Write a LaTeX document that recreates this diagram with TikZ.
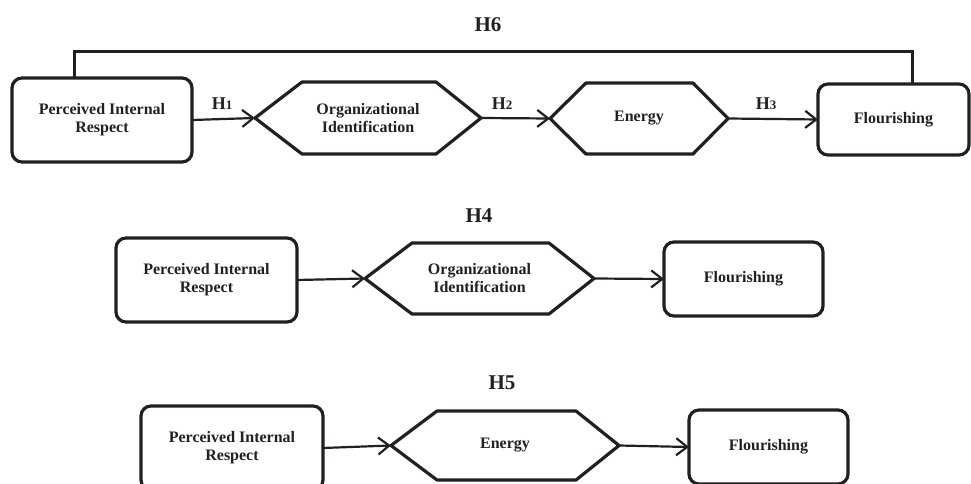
\documentclass[tikz,border=0pt]{standalone}
\usepackage{fontspec}
\setmainfont{Liberation Serif}
\usetikzlibrary{arrows.meta}
\definecolor{ink}{HTML}{231F20}
\tikzset{
  boxline/.style={draw=ink, line width=3.2pt, line join=round},
  rbox/.style={boxline, rounded corners=10pt, inner sep=0pt, outer sep=0pt, align=center, text=ink,
     font=\fontsize{16}{18}\selectfont\bfseries},
  hexnode/.style={inner sep=0pt, outer sep=0pt, align=center, text=ink,
     font=\fontsize{16}{18}\selectfont\bfseries},
  conn/.style={draw=ink, line width=2.2pt, -{Straight Barb[length=11pt,width=17pt,line width=2.2pt]}},
  hlabel/.style={text=ink, font=\fontsize{21}{24}\selectfont\bfseries, inner sep=0pt},
  hsmall/.style={text=ink, inner sep=0pt},
}
\newcommand{\hexdraw}[3]{% name, left inset, right inset
  \draw[boxline] (#1.west) -- ([xshift=#2]#1.north west) -- ([xshift=-#3]#1.north east) -- (#1.east)
    -- ([xshift=-#3]#1.south east) -- ([xshift=#2]#1.south west) -- cycle;}
\newcommand{\Hsub}[1]{{\fontsize{18}{20}\selectfont\bfseries H}{\fontsize{13}{15}\selectfont\bfseries #1}}
\begin{document}
\begin{tikzpicture}[x=1pt, y=-1pt]
\useasboundingbox (0,0) rectangle (971,484);
\begin{scope}
\clip (0,0) rectangle (971,484);
% Row 1
\node[rbox, minimum width=180pt, minimum height=84pt] (pir1) at (102,120) {Perceived Internal\\Respect};
\node[hexnode, minimum width=226pt, minimum height=72pt] (oi1) at (368,118) {Organizational\\Identification};
\hexdraw{oi1}{47pt}{45pt}
\node[hexnode, minimum width=178pt, minimum height=71pt] (en1) at (639,118.5) {Energy};
\hexdraw{en1}{36pt}{35pt}
\node[rbox, minimum width=151pt, minimum height=71pt] (fl1) at (893.5,119.5) {Flourishing};
\draw[conn] (pir1.east) -- (oi1.west);
\draw[conn] (oi1.east) -- (en1.west);
\draw[conn] (en1.east) -- (fl1.west);
\coordinate (h6a) at (74,52);
\coordinate (h6b) at (912,52);
\draw[draw=ink, line width=3pt] (pir1.north -| h6a) -- (h6a) -- (h6b) -- (fl1.north -| h6b);
\node[hlabel] (lh6) at (488,25) {H6};
\node[hsmall] (lh1) at (222,104) {\Hsub{1}};
\node[hsmall] (lh2) at (502,104) {\Hsub{2}};
\node[hsmall] (lh3) at (766,104) {\Hsub{3}};
% Row 2
\node[hlabel] (lh4) at (479,216) {H4};
\node[rbox, minimum width=181pt, minimum height=84pt] (pir2) at (206.5,280) {Perceived Internal\\Respect};
\node[hexnode, minimum width=229pt, minimum height=71pt] (oi2) at (479.5,278.5) {Organizational\\Identification};
\hexdraw{oi2}{47pt}{45pt}
\node[rbox, minimum width=159pt, minimum height=74pt] (fl2) at (743.5,279) {Flourishing};
\draw[conn] (pir2.east) -- (oi2.west);
\draw[conn] (oi2.east) -- (fl2.west);
% Row 3
\node[hlabel] (lh5) at (502,383) {H5};
\node[rbox, minimum width=182pt, minimum height=84pt] (pir3) at (232,448) {Perceived Internal\\Respect};
\node[hexnode, minimum width=228pt, minimum height=69pt] (en3) at (505,445.5) {Energy};
\hexdraw{en3}{46pt}{43pt}
\node[rbox, minimum width=159pt, minimum height=74pt] (fl3) at (768.5,447) {Flourishing};
\draw[conn] (pir3.east) -- (en3.west);
\draw[conn] (en3.east) -- (fl3.west);
\end{scope}
\end{tikzpicture}
\end{document}
